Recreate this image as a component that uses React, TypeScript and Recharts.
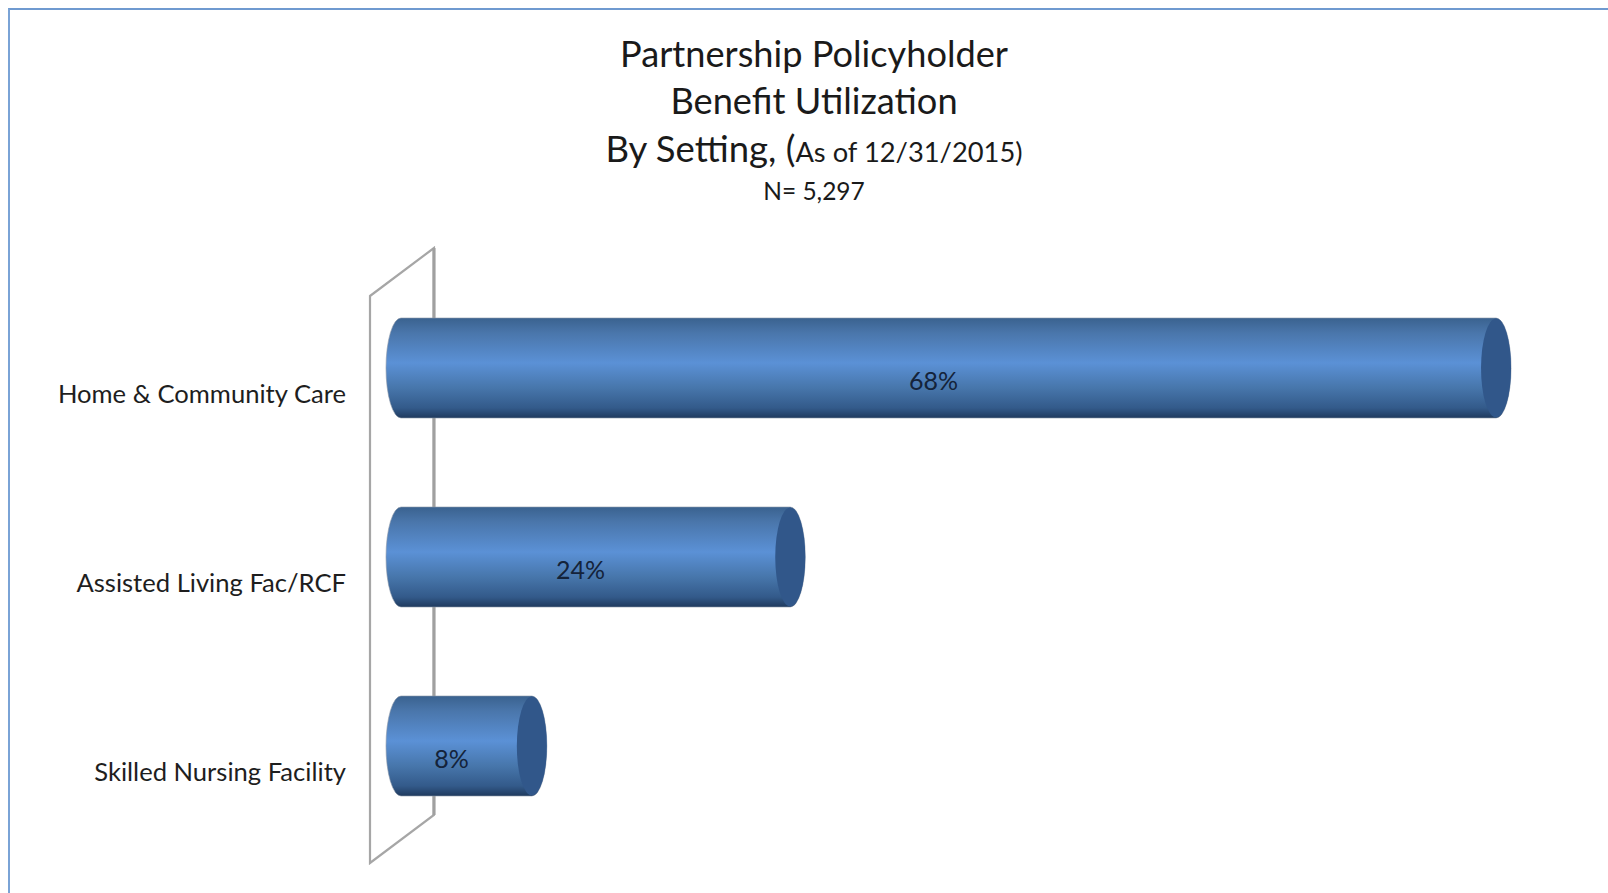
import { BarChart, Bar, XAxis, YAxis, ReferenceArea, LabelList } from 'recharts';

const CATEGORIES = ['Home & Community Care', 'Assisted Living Fac/RCF', 'Skilled Nursing Facility'];
const VALUES = [67.8, 24.1, 8.1];

const data = CATEGORIES.map((name, i) => ({ name, value: VALUES[i] }));

const FONT = 'Lato, "Open Sans", sans-serif';
const CAP_RX = 15;
const PAD_TOP = 25;
const PAD_BOTTOM = 23;

// cylinder: rounded left end + flat dark cap on the right
const Cylinder = (props: any) => {
  const { x, y, width, height } = props;
  const ry = height / 2;
  const d = `M${x},${y} L${x + width},${y} A${CAP_RX},${ry} 0 0 1 ${x + width},${y + height} L${x},${y + height} A${CAP_RX},${ry} 0 0 1 ${x},${y} Z`;
  return (
    <g>
      <path d={d} fill="url(#barShade)" stroke="#8b97a8" strokeWidth={0.6} />
      <ellipse cx={x + width} cy={y + ry} rx={CAP_RX} ry={ry - 0.5} fill="#31578a" />
    </g>
  );
};

// 3D wall behind the bars, skewed; the area only covers the padded band range
const Wall = (props: any) => {
  const { x, y, width, height } = props;
  const depth = 48;
  const top = y - PAD_TOP;
  const bottom = y + height + PAD_BOTTOM;
  const pts = [
    [x, top + depth],
    [x + width, top],
    [x + width, bottom - depth],
    [x, bottom],
  ];
  return (
    <g>
      <polygon
        points={pts.map((p) => p.join(',')).join(' ')}
        fill="#fff"
        stroke="#a6a6a6"
        strokeWidth={2.2}
      />
      <line x1={x + width} y1={top} x2={x + width} y2={bottom - depth} stroke="#a0a0a0" strokeWidth={3.2} />
    </g>
  );
};

const CategoryTick = (props: any) => {
  const { x, y, payload } = props;
  return (
    <text x={x + 6} y={y + 26} dy="0.36em" textAnchor="end" fontFamily={FONT} fontSize={25.6} fill="#1e1e1e">
      {payload.value}
    </text>
  );
};

const titleLine = (top: number, size: number, content: any) => (
  <div
    style={{
      position: 'absolute',
      left: 0,
      width: 1628,
      top,
      textAlign: 'center',
      fontFamily: FONT,
      fontSize: size,
      lineHeight: '40px',
      color: '#1a1a1a',
    }}
  >
    {content}
  </div>
);

export default function App() {
  return (
    <div style={{ position: 'absolute', left: 0, top: 0, width: 1608, height: 893, background: '#fff', overflow: 'hidden' }}>
      <div
        style={{
          position: 'absolute',
          left: 8,
          top: 8,
          width: 1600,
          height: 885,
          borderLeft: '2px solid #7aa3d6',
          borderTop: '2px solid #6f9ad0',
          boxSizing: 'border-box',
        }}
      />
      {titleLine(33, 36.2, 'Partnership Policyholder')}
      {titleLine(80, 36.2, 'Benefit Utilization')}
      {titleLine(128, 36.5, (
        <span>
          By Setting, (<span style={{ fontSize: 27.3 }}>As of 12/31/2015)</span>
        </span>
      ))}
      {titleLine(171, 24.5, 'N= 5,297')}

      <div style={{ position: 'absolute', left: 0, top: 0 }}>
        <BarChart
          width={1608}
          height={893}
          layout="vertical"
          data={data}
          margin={{ top: 248, right: 48, bottom: 30, left: 0 }}
        >
          <defs>
            <linearGradient id="barShade" x1="0" y1="0" x2="0" y2="1">
              <stop offset="0%" stopColor="#3a628f" />
              <stop offset="15%" stopColor="#4a76ab" />
              <stop offset="45%" stopColor="#5b91d6" />
              <stop offset="70%" stopColor="#4776ab" />
              <stop offset="90%" stopColor="#335a8a" />
              <stop offset="100%" stopColor="#1f3a5e" />
            </linearGradient>
          </defs>
          <XAxis type="number" hide domain={[-1.92, 71.76]} allowDataOverflow />
          <YAxis
            type="category"
            dataKey="name"
            width={370}
            axisLine={false}
            tickLine={false}
            tickMargin={24}
            tick={<CategoryTick />}
            padding={{ top: PAD_TOP, bottom: PAD_BOTTOM }}
            interval={0}
          />
          <ReferenceArea x1={-1.92} x2={2.04} shape={<Wall />} ifOverflow="visible" />
          <Bar dataKey="value" barSize={100} shape={<Cylinder />} isAnimationActive={false}>
            <LabelList
              dataKey="value"
              position="center"
              formatter={(v: any) => `${Math.round(v)}%`}
              dx={-15}
              dy={13.5}
              fontFamily={FONT}
              fontSize={25}
              fill="#14233a"
            />
          </Bar>
        </BarChart>
      </div>
    </div>
  );
}
